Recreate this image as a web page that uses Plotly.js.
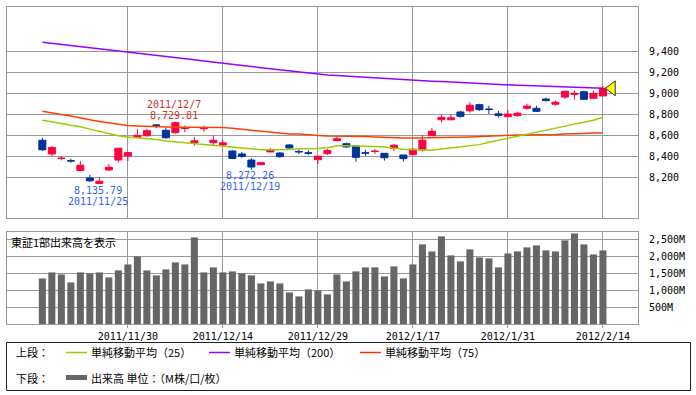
<!DOCTYPE html>
<html><head><meta charset="utf-8">
<script src="https://cdn.plot.ly/plotly-3.0.1.min.js"></script>
<style>html,body{margin:0;padding:0;background:#fff;}#chart{width:696px;height:395px;}</style>
</head><body><div id="chart"></div>
<script>
const dates = ['2011/11/16','2011/11/17','2011/11/18','2011/11/21','2011/11/22','2011/11/24','2011/11/25','2011/11/28','2011/11/29','2011/11/30',
 '2011/12/1','2011/12/2','2011/12/5','2011/12/6','2011/12/7','2011/12/8','2011/12/9','2011/12/12','2011/12/13','2011/12/14',
 '2011/12/15','2011/12/16','2011/12/19','2011/12/20','2011/12/21','2011/12/22','2011/12/26','2011/12/27','2011/12/28','2011/12/29',
 '2011/12/30','2012/1/4','2012/1/5','2012/1/6','2012/1/10','2012/1/11','2012/1/12','2012/1/13','2012/1/16','2012/1/17',
 '2012/1/18','2012/1/19','2012/1/20','2012/1/23','2012/1/24','2012/1/25','2012/1/26','2012/1/27','2012/1/30','2012/1/31',
 '2012/2/1','2012/2/2','2012/2/3','2012/2/6','2012/2/7','2012/2/8','2012/2/9','2012/2/10','2012/2/13','2012/2/14'];
const open  = [8554,8423,8380,8358,8265,8193,8140,8270,8365,8404, 8582,8597,8700,8649,8626,8666,8528,8664,8531,8509,
 8451,8423,8365,8320,8442,8432,8509,8447,8434,8368, 8426,8550,8521,8499,8434,8446,8429,8477,8413,8416,
 8461,8598,8750,8750,8824,8836,8894,8852,8806,8779, 8789,8859,8859,8948,8898,8966,8992,9017,8955,8977];
const high  = [8578,8499,8401,8378,8356,8222,8200,8330,8480,8442, 8662,8662,8709,8674,8729.81,8693,8585,8693,8601,8553,
 8458,8442,8382,8345,8480,8442,8518,8467,8458,8404, 8470,8595,8531,8509,8464,8470,8429,8518,8413,8480,
 8604,8671,8795,8802,8834,8920,8903,8884,8834,8843, 8827,8903,8884,8961,8932,9025,9028,9028,9028,9070];
const low   = [8451,8397,8362,8340,8263,8158,8135.79,8260,8343,8356, 8580,8588,8668,8566,8617,8630,8502,8636,8509,8496,
 8375,8384,8272.26,8318,8440,8387,8477,8423,8413,8327, 8413,8550,8480,8349,8404,8423,8359,8451,8349,8413,
 8445,8598,8722,8745,8770,8818,8834,8805,8770,8779, 8779,8846,8827,8922,8884,8948,8942,8942,8955,8977];
const close = [8463,8485,8382,8356,8315,8166,8162,8295,8478,8436, 8600,8645,8696,8578,8722,8669,8548,8668,8553,8529,
 8380,8400,8298,8340,8464,8397,8480,8443,8430,8402, 8457,8568,8490,8391,8431,8449,8387,8506,8378,8468,
 8554,8640,8772,8768,8782,8888,8846,8848,8792,8804, 8812,8880,8830,8933,8917,9022,9002,8945,9002,9050];
const volume = [1349,1527,1467,1231,1527,1497,1527,1379,1586,1763, 2000,1586,1438,1615,1822,1763,2562,1527,1675,1527,
 1556,1497,1438,1201,1260,1201,935,817,1024,994, 876,1467,1260,1556,1675,1675,1408,1704,1349,1763,
 2355,2148,2592,2030,1852,2207,1970,1941,1675,2089, 2148,2266,2325,2178,2148,2474,2680,2355,2059,2178];
const ma25 = [8745,8733,8714,8697,8683,8660,8640,8616,8596,8585, 8578,8575,8561,8546,8538,8531,8525,8519,8509,8498,
 8489,8480,8472,8464,8464,8464,8466,8473,8473,8475, 8483,8502,8502,8502,8502,8495,8490,8480,8467,8465,
 8458,8458,8470,8480,8490,8499,8512,8535,8555,8570, 8590,8610,8630,8650,8668,8690,8708,8725,8745,8773];
const ma75 = [8830,8818,8800,8785,8770,8750,8732,8718,8706,8695, 8690,8686,8680,8678,8678,8678,8678,8678,8678,8675,
 8668,8659,8649,8640,8633,8623,8614,8614,8604,8600, 8595,8595,8595,8595,8590,8585,8580,8576,8576,8576,
 8576,8576,8576,8576,8583,8585,8590,8595,8598,8602, 8604,8604,8604,8604,8608,8614,8614,8618,8622,8623];
const ma200 = [9490,9480,9470,9460,9450,9440,9430,9420,9410,9400, 9389,9378,9367,9356,9345,9334,9323,9312,9300,9289,
 9279,9268,9258,9247,9237,9226,9216,9205,9195,9184, 9178,9173,9167,9161,9156,9150,9144,9139,9133,9127,
 9123,9118,9114,9109,9105,9100,9096,9091,9087,9082, 9079,9076,9073,9069,9066,9063,9060,9057,9053,9050];
const xTickDates = ['2011/11/30','2011/12/14','2011/12/29','2012/1/17','2012/1/31','2012/2/14'];
const priceTicks = [8200,8400,8600,8800,9000,9200,9400];
const volTicks = [500,1000,1500,2000,2500];
const volTickText = ['500M','1,000M','1,500M','2,000M','2,500M'];
const highMarkDates = ['2011/12/7'];
const lowMarkDates = ['2011/11/25','2011/12/19'];
const volumeTitle = '東証1部出来高を表示';
const legendRows = [
  {label:'上段：', items:[{name:'単純移動平均（25）', color:'#99cc00'},{name:'単純移動平均（200）', color:'#9900ff'},{name:'単純移動平均（75）', color:'#ff3300'}]},
  {label:'下段：', items:[{name:'出来高 単位：（M株/口/枚）', color:'#666666', bar:true}]}
];

const idx = dates.map((d,i)=>i);
const tickIdx = xTickDates.map(d=>dates.indexOf(d));
const last = dates.length-1;
const fmt = v => v.toLocaleString('en-US',{minimumFractionDigits:2, maximumFractionDigits:2});

const W=696,H=395,ML=7,MR=58,MT=7,MB=71;
const PW=W-ML-MR, PH=H-MT-MB;
const xp = px => (px-ML)/PW;
const yp = py => (H-MB-py)/PH;

const traces = [
 {type:'candlestick', x:idx, open:open, high:high, low:low, close:close, xaxis:'x', yaxis:'y',
  increasing:{line:{color:'#ff0040',width:1}, fillcolor:'#ff0040'},
  decreasing:{line:{color:'#003399',width:1}, fillcolor:'#003399'},
  whiskerwidth:0, hoverinfo:'skip', showlegend:false},
 {type:'scatter', mode:'lines', x:idx, y:ma75, line:{color:'#ff4000',width:1.5}, xaxis:'x', yaxis:'y', hoverinfo:'skip'},
 {type:'scatter', mode:'lines', x:idx, y:ma25, line:{color:'#99cc00',width:1.5}, xaxis:'x', yaxis:'y', hoverinfo:'skip'},
 {type:'scatter', mode:'lines', x:idx, y:ma200, line:{color:'#9900ff',width:1.5}, xaxis:'x', yaxis:'y', hoverinfo:'skip'},
 {type:'scatter', mode:'markers', x:[last+0.95], y:[close[last]], xaxis:'x', yaxis:'y', cliponaxis:false,
  marker:{symbol:'triangle-left', size:13, color:'#ffff00', line:{color:'#333333',width:1}}, hoverinfo:'skip'},
 {type:'bar', x:idx, y:volume, xaxis:'x2', yaxis:'y2', width:0.74, marker:{color:'#666666', line:{width:0}}, hoverinfo:'skip'}
];

const ax = {showline:true, mirror:true, linecolor:'#999999', linewidth:1, showgrid:true, gridcolor:'#999999', gridwidth:1, zeroline:false, fixedrange:true};
const monoFont = {family:'DejaVu Sans Mono, monospace', size:10, color:'#000'};
const cjk = 'Noto Sans CJK JP, sans-serif';

const annotations = [];
highMarkDates.forEach(d=>{
  const i = dates.indexOf(d);
  annotations.push({x:i, y:high[i], xref:'x', yref:'y', text:d, showarrow:false, yanchor:'middle', yshift:17, xshift:-1, font:{family:monoFont.family,size:10,color:'#cc3333'}});
  annotations.push({x:i, y:high[i], xref:'x', yref:'y', text:fmt(high[i]), showarrow:false, yanchor:'middle', yshift:6, xshift:-1, font:{family:monoFont.family,size:10,color:'#cc3333'}});
});
lowMarkDates.forEach(d=>{
  const i = dates.indexOf(d);
  annotations.push({x:i, y:low[i], xref:'x', yref:'y', text:fmt(low[i]), showarrow:false, yanchor:'middle', yshift:-6, xshift:-1, font:{family:monoFont.family,size:10,color:'#3366ee'}});
  annotations.push({x:i, y:low[i], xref:'x', yref:'y', text:d, showarrow:false, yanchor:'middle', yshift:-17, xshift:-1, font:{family:monoFont.family,size:10,color:'#3366ee'}});
});
annotations.push({xref:'paper', yref:'paper', x:xp(9), y:yp(242), xanchor:'left', yanchor:'middle', text:volumeTitle, showarrow:false, font:{family:cjk,size:11,color:'#000'}});

const shapes = [
  {type:'rect', xref:'paper', yref:'paper', x0:xp(7.5), x1:xp(127.5), y0:yp(251), y1:yp(232.5), fillcolor:'#ffffff', line:{width:0}, layer:'between'},
  {type:'rect', xref:'paper', yref:'paper', x0:xp(6.5), x1:xp(690.5), y0:yp(390.5), y1:yp(342.5), fillcolor:'rgba(0,0,0,0)', line:{color:'#222222',width:1}}
];
const rowY = [352.5, 377.5];
const itemX = [[66,209,360],[66]];
legendRows.forEach((row,r)=>{
  annotations.push({xref:'paper', yref:'paper', x:xp(14), y:yp(rowY[r]), xanchor:'left', yanchor:'middle', text:row.label, showarrow:false, font:{family:cjk,size:11,color:'#000'}});
  row.items.forEach((it,k)=>{
    const x0 = itemX[r][k];
    shapes.push({type:'line', xref:'paper', yref:'paper', x0:xp(x0), x1:xp(x0+21), y0:yp(rowY[r]), y1:yp(rowY[r]), line:{color:it.color, width: it.bar?5:1.5}});
    annotations.push({xref:'paper', yref:'paper', x:xp(x0+23), y:yp(rowY[r]), xanchor:'left', yanchor:'middle', text:it.name, showarrow:false, font:{family:cjk,size:11,color:'#000'}});
  });
});

const layout = {
  width:W, height:H, margin:{l:ML,r:MR,t:MT,b:MB,pad:0}, paper_bgcolor:'#ffffff', plot_bgcolor:'#ffffff', showlegend:false,
  font:monoFont, boxgap:0.26, boxgroupgap:0,
  xaxis:Object.assign({}, ax, {domain:[0,1], anchor:'y', range:[-3.72,62.69], tickvals:tickIdx, showticklabels:false, ticks:'', rangeslider:{visible:false}}),
  yaxis:Object.assign({}, ax, {domain:[yp(218),1], anchor:'x', range:[7811,9827], side:'right', tickvals:priceTicks, tickformat:',', ticks:'outside', ticklen:8, tickcolor:'rgba(0,0,0,0)', tickfont:monoFont}),
  xaxis2:Object.assign({}, ax, {domain:[0,1], anchor:'y2', matches:'x', tickvals:tickIdx, ticktext:xTickDates, ticks:'outside', ticklen:3, tickcolor:'#999999', tickfont:monoFont}),
  yaxis2:Object.assign({}, ax, {domain:[0,yp(232)], anchor:'x2', range:[0,2722], side:'right', tickvals:volTicks, ticktext:volTickText, ticks:'outside', ticklen:8, tickcolor:'rgba(0,0,0,0)', tickfont:monoFont}),
  annotations:annotations, shapes:shapes, hovermode:false
};
Plotly.newPlot('chart', traces, layout, {staticPlot:true, displayModeBar:false});
</script></body></html>
